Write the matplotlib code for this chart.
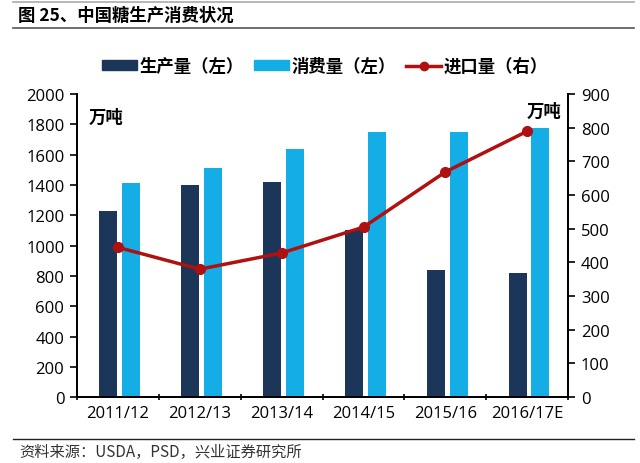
import matplotlib
matplotlib.use("Agg")
import matplotlib.pyplot as plt
import numpy as np
from matplotlib.lines import Line2D
from matplotlib.patches import Patch

plt.rcParams['font.family'] = ['Noto Sans CJK SC', 'DejaVu Sans']

categories = ["2011/12", "2012/13", "2013/14", "2014/15", "2015/16", "2016/17E"]
production = [1230, 1400, 1420, 1100, 840, 820]
consumption = [1415, 1510, 1640, 1750, 1750, 1775]
imports = [445, 380, 428, 505, 669, 790]
left_ticks = list(range(0, 2001, 200))
right_ticks = list(range(0, 901, 100))

dark = "#1b3659"
light = "#15ade6"
red = "#b01010"

fig = plt.figure(figsize=(6.4, 4.64), dpi=100)
ax = fig.add_axes([0.120, 0.142, 0.768, 0.653])
ax2 = ax.twinx()

x = np.arange(len(categories))
w = 0.22
ax.bar(x - 0.12, production, width=w, color=dark, zorder=2)
ax.bar(x + 0.16, consumption, width=w, color=light, zorder=2)
ax2.plot(x, imports, color=red, lw=2.5, marker='o', ms=7, zorder=3)

ax.set_xlim(-0.5, len(categories) - 0.5)
ax.set_ylim(0, 2000)
ax2.set_ylim(0, 900)
ax.set_yticks(left_ticks)
ax2.set_yticks(right_ticks)
ax.set_xticks(np.arange(-0.5, len(categories), 1.0))
ax.set_xticklabels([])
ax.set_xticks(x, minor=True)
ax.set_xticklabels(categories, minor=True)
ax.tick_params(axis='x', which='minor', length=0, pad=6, labelsize=12)
ax.tick_params(axis='x', which='major', length=5, direction='inout', width=1.2)
ax.tick_params(axis='y', length=5, width=1.2, labelsize=12, pad=4)
ax2.tick_params(axis='y', length=5, width=1.2, labelsize=12, pad=4)

for a in (ax, ax2):
    a.spines['top'].set_visible(False)
    for s in ('left', 'right', 'bottom'):
        a.spines[s].set_linewidth(1.3)
        a.spines[s].set_color('black')
for lab in ax.get_xticklabels(minor=True) + ax.get_yticklabels() + ax2.get_yticklabels():
    lab.set_family(['Open Sans', 'DejaVu Sans'])

ax.text(0.025, 0.955, "万吨", transform=ax.transAxes, fontsize=12.5, fontweight='bold', va='top', ha='left')
ax2.text(0.985, 0.975, "万吨", transform=ax.transAxes, fontsize=12.5, fontweight='bold', va='top', ha='right')

handles = [Patch(color=dark), Patch(color=light),
           Line2D([0], [0], color=red, lw=2.5, marker='o', ms=6)]
labels = ["生产量（左）", "消费量（左）", "进口量（右）"]
fig.legend(handles, labels, loc='center', bbox_to_anchor=(0.508, 0.855), ncol=3, frameon=False,
           prop={'size': 12.5, 'weight': 'bold'}, handlelength=2.0, handleheight=0.45,
           columnspacing=0.6, handletextpad=0.15)

fig.text(0.028, 0.967, "图 25、中国糖生产消费状况", fontsize=12.5, fontweight='bold', va='center', ha='left')
fig.add_artist(Line2D([0.02, 0.99], [0.994, 0.994], color='#aaaaaa', lw=1.2, transform=fig.transFigure))
fig.add_artist(Line2D([0.02, 0.99], [0.937, 0.937], color='#555555', lw=1.2, transform=fig.transFigure))
fig.add_artist(Line2D([0.02, 0.99], [0.052, 0.052], color='#222222', lw=1.0, transform=fig.transFigure))
fig.text(0.03, 0.025, "资料来源：USDA，PSD，兴业证券研究所", fontsize=11, va='center', ha='left', color='#333333')

fig.savefig("out.png", dpi=100)
